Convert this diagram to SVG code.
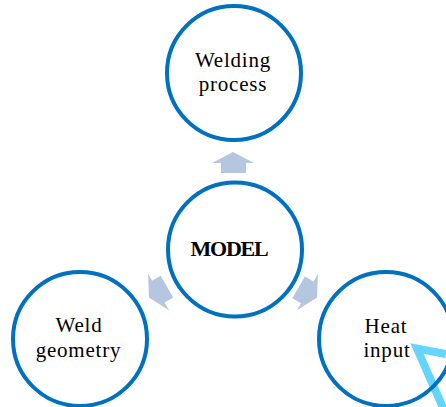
<svg xmlns="http://www.w3.org/2000/svg" width="446" height="407" viewBox="0 0 446 407">
<defs>
<style>
.node{fill:none;stroke:#0070c0;stroke-width:4}
.lbl{font-family:"Liberation Serif","Times New Roman",serif;font-size:21px;fill:#000;text-anchor:middle;letter-spacing:0.8px}
.bold{font-weight:bold;font-size:22px;letter-spacing:-1.2px}
.arr{fill:#b4c6e0}
</style>
</defs>
<rect width="446" height="407" fill="#ffffff"/>
<polyline points="446,354 417,348.5 444,410" fill="none" stroke="#66d5fb" stroke-width="8" stroke-linejoin="miter"/>
<g id="connectors">
<polygon class="arr" points="233,152 254,163 246,163 246,173 221,173 221,163 212,163"/>
<polygon class="arr" points="233,152 254,163 246,163 246,173 221,173 221,163 212,163" transform="rotate(-120 233 249)"/>
<polygon class="arr" points="233,152 254,163 246,163 246,173 221,173 221,163 212,163" transform="rotate(120 233 249)"/>
</g>
<g id="node-welding-process">
<circle class="node" cx="234" cy="73" r="67"/>
<text class="lbl" x="233" y="67">Welding</text>
<text class="lbl" x="233" y="91">process</text>
</g>
<g id="node-model">
<circle class="node" cx="235" cy="249.5" r="67"/>
<text class="lbl bold" x="229" y="256">MODEL</text>
</g>
<g id="node-weld-geometry">
<circle class="node" cx="80" cy="339" r="67"/>
<text class="lbl" x="79" y="332">Weld</text>
<text class="lbl" x="78.5" y="357">geometry</text>
</g>
<g id="node-heat-input">
<circle class="node" cx="386" cy="339" r="67"/>
<text class="lbl" x="386" y="333">Heat</text>
<text class="lbl" x="387" y="357">input</text>
</g>
</svg>
